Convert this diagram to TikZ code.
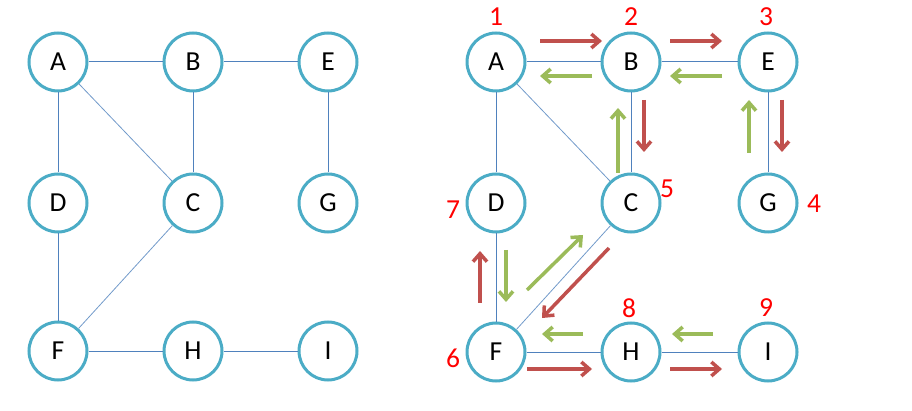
\documentclass[tikz,border=0pt]{standalone}
\usepackage{fontspec}
\setmainfont{Carlito}
\usetikzlibrary{arrows.meta}
\definecolor{ring}{HTML}{4BACC6}
\definecolor{edgeblue}{HTML}{4F81BD}
\definecolor{redarrow}{HTML}{C0504D}
\definecolor{greenarrow}{HTML}{9BBB59}
\tikzset{
  vtx/.style={circle,draw=ring,line width=3pt,minimum size=58pt,inner sep=0pt,fill=white,font=\fontsize{27.5}{29}\selectfont},
  edg/.style={draw=edgeblue,line width=1pt},
  dedg/.style={draw=edgeblue!80,line width=0.8pt},
  redarr/.style={draw=redarrow,line width=3.5pt,-{Straight Barb[length=8pt,width=14pt]}},
  grnarr/.style={draw=greenarrow,line width=3.5pt,-{Straight Barb[length=8pt,width=14pt]}},
  num/.style={text=red,font=\fontsize{27.5}{29}\selectfont,inner sep=0pt}
}
\begin{document}
\begin{tikzpicture}[x=1pt,y=-1pt]
\useasboundingbox (0,0) rectangle (912,411);
% ---------- left graph ----------
\node[vtx] (lA) at (58,62) {A};
\node[vtx] (lB) at (193,62) {B};
\node[vtx] (lE) at (328,62) {E};
\node[vtx] (lD) at (58,203) {D};
\node[vtx] (lC) at (193,203) {C};
\node[vtx] (lG) at (328,203) {G};
\node[vtx] (lF) at (58,351) {F};
\node[vtx] (lH) at (193,351) {H};
\node[vtx] (lI) at (328,351) {I};
% ---------- right graph ----------
\node[vtx] (rA) at (496,62) {A};
\node[vtx] (rB) at (631,62) {B};
\node[vtx] (rE) at (768,62) {E};
\node[vtx] (rD) at (496,203) {D};
\node[vtx] (rC) at (631,203) {C};
\node[vtx] (rG) at (768,203) {G};
\node[vtx] (rF) at (496,352) {F};
\node[vtx] (rH) at (631,352) {H};
\node[vtx] (rI) at (768,352) {I};
% edges
\foreach \p in {l,r}{
  \draw[edg] (\p A) -- (\p B);
  \draw[edg] (\p B) -- (\p E);
  \draw[edg] (\p A) -- (\p D);
  \draw[edg] (\p B) -- (\p C);
  \draw[edg] (\p E) -- (\p G);
  \draw[edg] (\p D) -- (\p F);
  \draw[edg] (\p F) -- (\p H);
  \draw[edg] (\p H) -- (\p I);
  \draw[dedg] (\p A) -- (\p C);
  \draw[dedg] (\p C) -- (\p F);
}
% arrow end points
\coordinate (a1s) at (540,41);   \coordinate (a1e) at (602,41);
\coordinate (a2s) at (592,76);   \coordinate (a2e) at (540,76);
\coordinate (a3s) at (670,41);   \coordinate (a3e) at (722,41);
\coordinate (a4s) at (722,76);   \coordinate (a4e) at (670,76);
\coordinate (a5s) at (644,100);  \coordinate (a5e) at (644,152);
\coordinate (a6s) at (618,173);  \coordinate (a6e) at (618,108);
\coordinate (a7s) at (749,153);  \coordinate (a7e) at (749,100);
\coordinate (a8s) at (782,100);  \coordinate (a8e) at (782,152);
\coordinate (a9s) at (480,303);  \coordinate (a9e) at (480,251);
\coordinate (a10s) at (506,250); \coordinate (a10e) at (506,302);
\coordinate (a11s) at (527,290); \coordinate (a11e) at (583,235);
\coordinate (a12s) at (609,248); \coordinate (a12e) at (542,318);
\coordinate (a13s) at (583,334); \coordinate (a13e) at (542,334);
\coordinate (a14s) at (713,334); \coordinate (a14e) at (672,334);
\coordinate (a15s) at (527,369); \coordinate (a15e) at (592,369);
\coordinate (a16s) at (670,369); \coordinate (a16e) at (722,369);
\draw[redarr] (a1s) -- (a1e);
\draw[grnarr] (a2s) -- (a2e);
\draw[redarr] (a3s) -- (a3e);
\draw[grnarr] (a4s) -- (a4e);
\draw[redarr] (a5s) -- (a5e);
\draw[grnarr] (a6s) -- (a6e);
\draw[grnarr] (a7s) -- (a7e);
\draw[redarr] (a8s) -- (a8e);
\draw[redarr] (a9s) -- (a9e);
\draw[grnarr] (a10s) -- (a10e);
\draw[grnarr] (a11s) -- (a11e);
\draw[redarr] (a12s) -- (a12e);
\draw[grnarr] (a13s) -- (a13e);
\draw[grnarr] (a14s) -- (a14e);
\draw[redarr] (a15s) -- (a15e);
\draw[redarr] (a16s) -- (a16e);
% order numbers
\node[num] (n1) at (496,17) {1};
\node[num] (n2) at (631,17) {2};
\node[num] (n3) at (766,17) {3};
\node[num] (n4) at (814,204) {4};
\node[num] (n5) at (667,189) {5};
\node[num] (n6) at (453,358) {6};
\node[num] (n7) at (453,210) {7};
\node[num] (n8) at (629,308) {8};
\node[num] (n9) at (766,308) {9};
\end{tikzpicture}
\end{document}
